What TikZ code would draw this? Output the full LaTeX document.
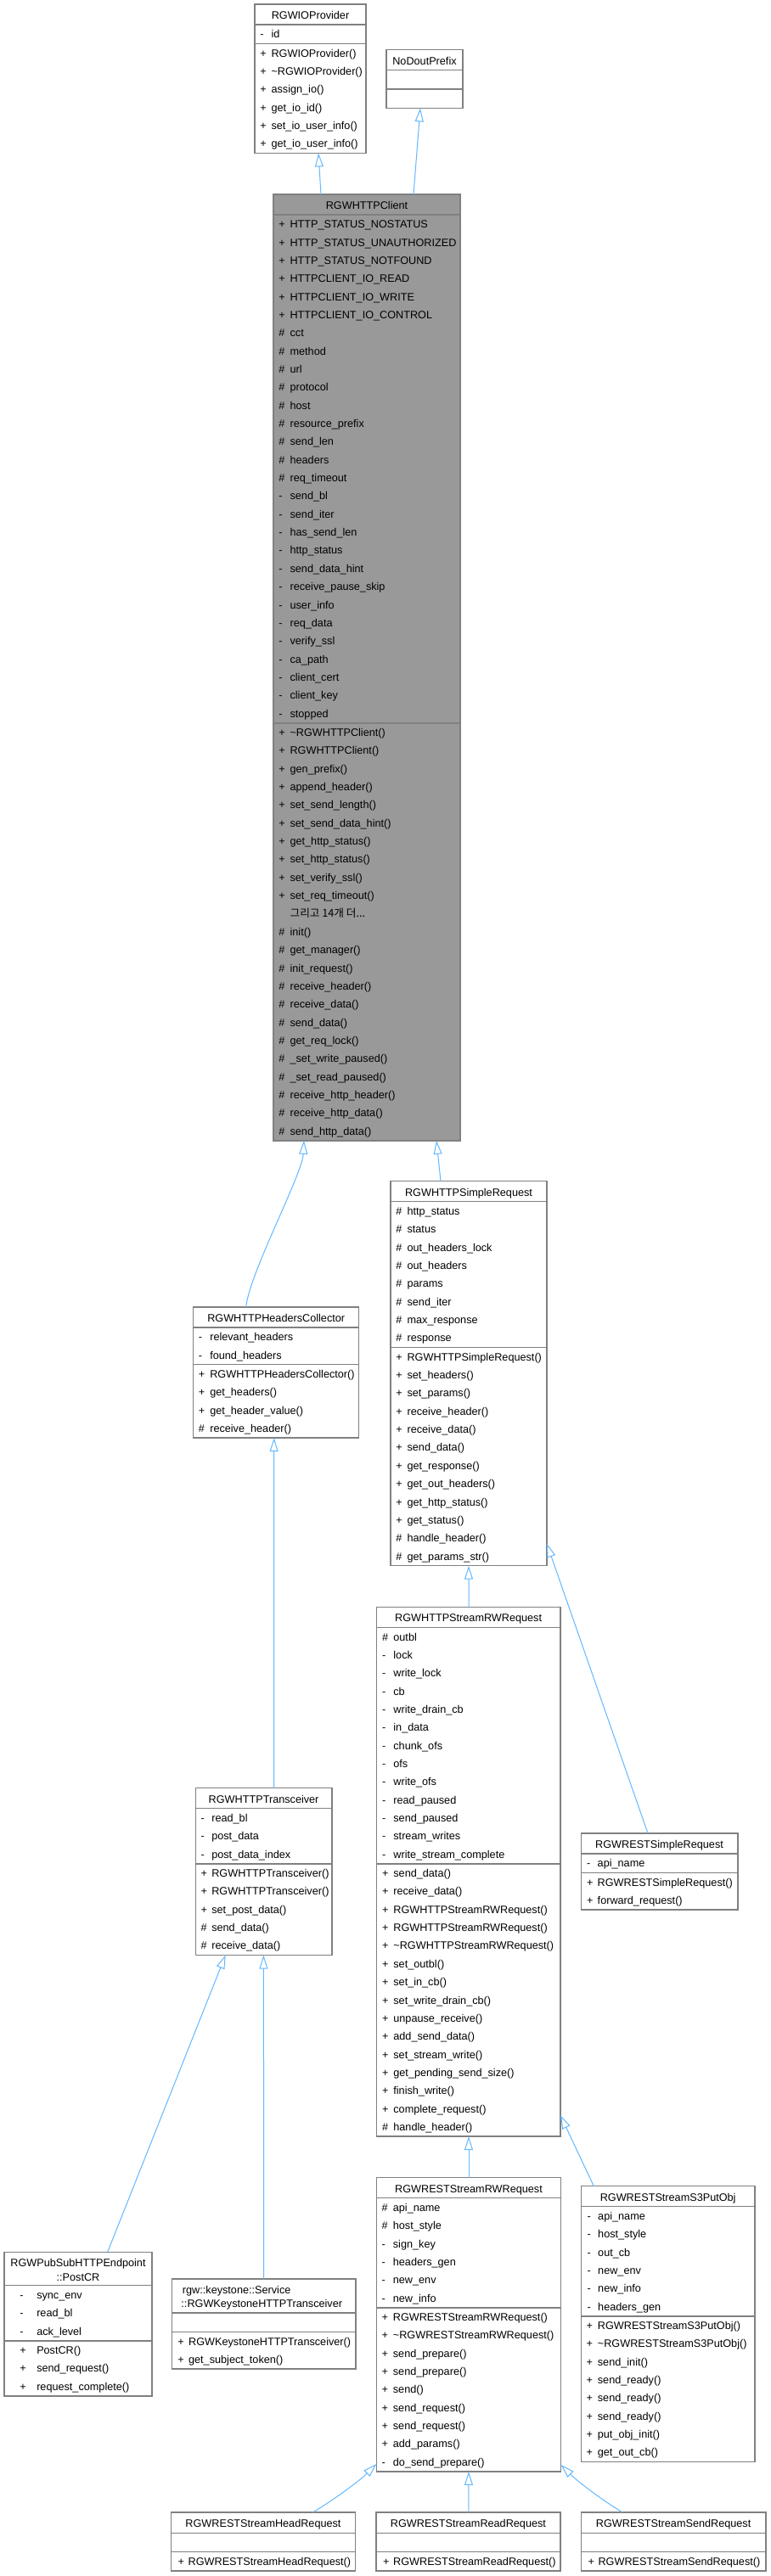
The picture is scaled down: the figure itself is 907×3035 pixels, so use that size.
\documentclass[tikz,border=0pt]{standalone}
\usepackage{fontspec}
\setmainfont{Liberation Sans}
\newfontfamily\krfont{Noto Sans CJK KR}
\definecolor{EdgeBlue}{RGB}{99,184,255}
\definecolor{BoxLine}{RGB}{128,128,128}
\definecolor{BoxFill}{RGB}{153,153,153}
\usetikzlibrary{arrows.meta,calc}
\newcommand{\rowh}{21.35}
\newcommand{\krmore}{\krfont 그리고 14개 더...}

% class box: [style] name, left, top, right, title height, #attributes, #methods
\newcommand{\umlbox}[8][]{%
  \pgfmathsetmacro{\ya}{#4+#6}%
  \pgfmathsetmacro{\ym}{\ya+max(#7,1)*\rowh+1}%
  \pgfmathsetmacro{\yb}{\ym+max(#8,1)*\rowh+1}%
  \pgfmathsetmacro{\bw}{(#5-#3)*0.75}%
  \pgfmathsetmacro{\bh}{(\yb-#4)*0.75}%
  \node[classbox,#1,minimum width=\bw pt,minimum height=\bh pt,anchor=north west] (#2) at (#3,#4) {};
  \coordinate (#2-a) at (#3,\ya);
  \coordinate (#2-m) at (#3,\ym);
  \draw[boxline] (#2-a) -- ++(#5-#3,0);
  \draw[boxline] (#2-m) -- ++(#5-#3,0);
}
% rows of one compartment: section, marker offset, marker width, list
\newcommand{\umlrows}[4]{%
  \foreach \mk/\nm [count=\i] in {#4} {
    \node[rowtext] (#1-\i) at ($(#1)+(#2,{(\i-0.5)*\rowh+5})$) {\makebox[#3][l]{\mk}\nm};
  }
}
\newcommand{\umltitle}[3]{\node[titletext] (#1-t) at ($(#1.north)+(0,#2)$) {#3};}

\begin{document}
\begin{tikzpicture}[x=0.75pt,y=-0.75pt,
  classbox/.style={rectangle,draw=BoxLine,line width=1.1pt,fill=white,inner sep=0pt,outer sep=0pt},
  boxline/.style={draw=BoxLine,line width=1.1pt},
  rowtext/.style={inner sep=0pt,anchor=base west,font=\fontsize{9.5}{11}\selectfont},
  titletext/.style={inner sep=0pt,anchor=base,font=\fontsize{9.5}{11}\selectfont},
  inherit/.style={draw=EdgeBlue,line width=0.75pt,-{Triangle[open,length=12pt,width=7.5pt]}}]
  \fill[white] (0,0) rectangle (907,3035);
  \useasboundingbox (0,0) rectangle (907,3035);

  % base classes
  \umlbox{provider}{300}{5}{431}{24}{1}{6}
  \umltitle{provider}{17.5}{RGWIOProvider}
  \umlrows{provider-a}{6}{10pt}{-/id}
  \umlrows{provider-m}{6}{10pt}{+/RGWIOProvider(), +/\textasciitilde RGWIOProvider(), +/assign\_io(),
    +/get\_io\_id(), +/set\_io\_user\_info(), +/get\_io\_user\_info()}

  \umlbox{nodout}{455}{58.7}{545}{24}{0}{0}
  \umltitle{nodout}{17.5}{NoDoutPrefix}

  % RGWHTTPClient
  \umlbox[fill=BoxFill]{client}{322}{229}{542}{24}{28}{23}
  \umltitle{client}{17.5}{RGWHTTPClient}
  \umlrows{client-a}{6}{10pt}{+/HTTP\_STATUS\_NOSTATUS, +/HTTP\_STATUS\_UNAUTHORIZED, +/HTTP\_STATUS\_NOTFOUND,
    +/HTTPCLIENT\_IO\_READ, +/HTTPCLIENT\_IO\_WRITE, +/HTTPCLIENT\_IO\_CONTROL,
    \#/cct, \#/method, \#/url, \#/protocol, \#/host, \#/resource\_prefix, \#/send\_len, \#/headers, \#/req\_timeout,
    -/send\_bl, -/send\_iter, -/has\_send\_len, -/http\_status, -/send\_data\_hint, -/receive\_pause\_skip,
    -/user\_info, -/req\_data, -/verify\_ssl, -/ca\_path, -/client\_cert, -/client\_key, -/stopped}
  \umlrows{client-m}{6}{10pt}{+/\textasciitilde RGWHTTPClient(), +/RGWHTTPClient(), +/gen\_prefix(), +/append\_header(),
    +/set\_send\_length(), +/set\_send\_data\_hint(), +/get\_http\_status(), +/set\_http\_status(),
    +/set\_verify\_ssl(), +/set\_req\_timeout(), {}/\krmore,
    \#/init(), \#/get\_manager(), \#/init\_request(), \#/receive\_header(), \#/receive\_data(), \#/send\_data(),
    \#/get\_req\_lock(), \#/\_set\_write\_paused(), \#/\_set\_read\_paused(), \#/receive\_http\_header(),
    \#/receive\_http\_data(), \#/send\_http\_data()}

  % first level
  \umlbox{headers}{227.7}{1540}{422.7}{24}{2}{4}
  \umltitle{headers}{17.5}{RGWHTTPHeadersCollector}
  \umlrows{headers-a}{6}{10pt}{-/relevant\_headers, -/found\_headers}
  \umlrows{headers-m}{6}{10pt}{+/RGWHTTPHeadersCollector(), +/get\_headers(), +/get\_header\_value(), \#/receive\_header()}

  \umlbox{simple}{460}{1391.7}{644}{24}{8}{12}
  \umltitle{simple}{17.5}{RGWHTTPSimpleRequest}
  \umlrows{simple-a}{6}{10pt}{\#/http\_status, \#/status, \#/out\_headers\_lock, \#/out\_headers, \#/params,
    \#/send\_iter, \#/max\_response, \#/response}
  \umlrows{simple-m}{6}{10pt}{+/RGWHTTPSimpleRequest(), +/set\_headers(), +/set\_params(), +/receive\_header(),
    +/receive\_data(), +/send\_data(), +/get\_response(), +/get\_out\_headers(), +/get\_http\_status(),
    +/get\_status(), \#/handle\_header(), \#/get\_params\_str()}

  % second level
  \umlbox{stream}{443.3}{1893.3}{660}{24}{13}{15}
  \umltitle{stream}{17.5}{RGWHTTPStreamRWRequest}
  \umlrows{stream-a}{6.5}{10pt}{\#/outbl, -/lock, -/write\_lock, -/cb, -/write\_drain\_cb, -/in\_data, -/chunk\_ofs,
    -/ofs, -/write\_ofs, -/read\_paused, -/send\_paused, -/stream\_writes, -/write\_stream\_complete}
  \umlrows{stream-m}{6.5}{10pt}{+/send\_data(), +/receive\_data(), +/RGWHTTPStreamRWRequest(), +/RGWHTTPStreamRWRequest(),
    +/\textasciitilde RGWHTTPStreamRWRequest(), +/set\_outbl(), +/set\_in\_cb(), +/set\_write\_drain\_cb(),
    +/unpause\_receive(), +/add\_send\_data(), +/set\_stream\_write(), +/get\_pending\_send\_size(),
    +/finish\_write(), +/complete\_request(), \#/handle\_header()}

  \umlbox{trans}{230.4}{2106.7}{390.8}{24}{3}{5}
  \umltitle{trans}{17.5}{RGWHTTPTransceiver}
  \umlrows{trans-a}{6}{9.5pt}{-/read\_bl, -/post\_data, -/post\_data\_index}
  \umlrows{trans-m}{6}{9.5pt}{+/RGWHTTPTransceiver(), +/RGWHTTPTransceiver(), +/set\_post\_data(), \#/send\_data(), \#/receive\_data()}

  \umlbox{restsimple}{684.3}{2160}{868.8}{24}{1}{2}
  \umltitle{restsimple}{17.5}{RGWRESTSimpleRequest}
  \umlrows{restsimple-a}{6.5}{9.5pt}{-/api\_name}
  \umlrows{restsimple-m}{6.5}{9.5pt}{+/RGWRESTSimpleRequest(), +/forward\_request()}

  % third level
  \umlbox{restrw}{443.3}{2565.7}{660.7}{24}{6}{9}
  \umltitle{restrw}{17.5}{RGWRESTStreamRWRequest}
  \umlrows{restrw-a}{6}{10pt}{\#/api\_name, \#/host\_style, -/sign\_key, -/headers\_gen, -/new\_env, -/new\_info}
  \umlrows{restrw-m}{6}{10pt}{+/RGWRESTStreamRWRequest(), +/\textasciitilde RGWRESTStreamRWRequest(), +/send\_prepare(),
    +/send\_prepare(), +/send(), +/send\_request(), +/send\_request(), +/add\_params(), -/do\_send\_prepare()}

  \umlbox{puts3}{684.3}{2575.7}{889}{24}{6}{8}
  \umltitle{puts3}{17.5}{RGWRESTStreamS3PutObj}
  \umlrows{puts3-a}{7}{9.5pt}{-/api\_name, -/host\_style, -/out\_cb, -/new\_env, -/new\_info, -/headers\_gen}
  \umlrows{puts3-m}{6}{10pt}{+/RGWRESTStreamS3PutObj(), +/\textasciitilde RGWRESTStreamS3PutObj(), +/send\_init(),
    +/send\_ready(), +/send\_ready(), +/send\_ready(), +/put\_obj\_init(), +/get\_out\_cb()}

  \umlbox{postcr}{5}{2653.3}{179}{39.4}{3}{3}
  \umltitle{postcr}{17.2}{RGWPubSubHTTPEndpoint}
  \node[titletext] (postcr-t2) at ($(postcr.north)+(0,33.9)$) {::PostCR};
  \umlrows{postcr-a}{18}{15pt}{-/sync\_env, -/read\_bl, -/ack\_level}
  \umlrows{postcr-m}{18}{15pt}{+/PostCR(), +/send\_request(), +/request\_complete()}

  \umlbox{keystone}{202.7}{2685}{419}{40}{0}{2}
  \node[titletext,anchor=base west] (keystone-t) at ($(keystone.north west)+(12,17.8)$) {rgw::keystone::Service};
  \node[titletext,anchor=base west] (keystone-t2) at ($(keystone.north west)+(10.5,33.5)$) {::RGWKeystoneHTTPTransceiver};
  \umlrows{keystone-m}{6.5}{9.5pt}{+/RGWKeystoneHTTPTransceiver(), +/get\_subject\_token()}

  % leaves
  \umlbox{head}{201.4}{2960}{418.6}{24.3}{0}{1}
  \umltitle{head}{17.8}{RGWRESTStreamHeadRequest}
  \umlrows{head-m}{8}{9pt}{+/RGWRESTStreamHeadRequest()}
  \umlbox{read}{442.9}{2960}{660}{24.3}{0}{1}
  \umltitle{read}{17.8}{RGWRESTStreamReadRequest}
  \umlrows{read-m}{8}{9pt}{+/RGWRESTStreamReadRequest()}
  \umlbox{send}{684.3}{2960}{902}{24.3}{0}{1}
  \umltitle{send}{17.8}{RGWRESTStreamSendRequest}
  \umlrows{send-m}{8}{9pt}{+/RGWRESTStreamSendRequest()}

  % inheritance edges
  \draw[inherit] ($(client.north west)+(56,0)$) -- ($(provider.south west)+(75,0)$);
  \draw[inherit] ($(client.north west)+(165,0)$) -- ($(nodout.south west)+(40,0)$);
  \draw[inherit] ($(headers.north west)+(62,0)$) .. controls +(4,-40) and +(-2,40) .. ($(client.south west)+(36,0)$);
  \draw[inherit] ($(simple.north west)+(59,0)$) -- ($(client.south west)+(192,0)$);
  \draw[inherit] ($(trans.north west)+(92.3,0)$) -- ($(headers.south west)+(95,0)$);
  \draw[inherit] ($(stream.north west)+(108.7,0)$) -- ($(simple.south west)+(92,0)$);
  \draw[inherit] ($(restsimple.north west)+(78.7,0)$) -- ($(simple.south east)+(0,-26)$);
  \draw[inherit] ($(postcr.north west)+(121.7,0)$) -- ($(trans.south west)+(35.2,0)$);
  \draw[inherit] ($(keystone.north west)+(108,0)$) -- ($(trans.south west)+(80,0)$);
  \draw[inherit] ($(restrw.north west)+(108.7,0)$) -- ($(stream.south west)+(108.7,0)$);
  \draw[inherit] ($(puts3.north west)+(15,0)$) -- ($(stream.south east)+(0,-25)$);
  \draw[inherit] ($(head.north west)+(167,0)$) .. controls +(25,-15) and +(-20,20) .. ($(restrw.south west)+(0,-9)$);
  \draw[inherit] ($(read.north west)+(109,0)$) -- ($(restrw.south west)+(108.7,0)$);
  \draw[inherit] ($(send.north west)+(48.9,0)$) .. controls +(-25,-15) and +(20,20) .. ($(restrw.south east)+(0,-8)$);
\end{tikzpicture}
\end{document}
